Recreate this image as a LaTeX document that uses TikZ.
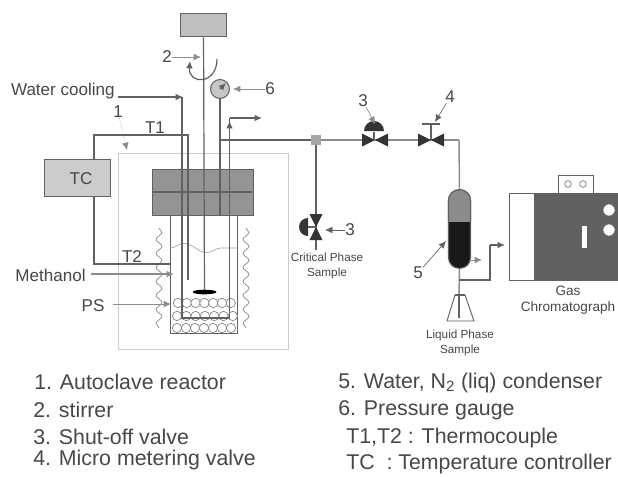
\documentclass[tikz,border=0pt]{standalone}
\usepackage{fontspec}
\setmainfont{Liberation Sans}
\usetikzlibrary{shapes.geometric, arrows.meta, decorations.pathmorphing}
\definecolor{inkgray}{gray}{0.28}
\definecolor{linegray}{gray}{0.38}
\definecolor{pipegray}{gray}{0.55}
\tikzstyle{whbox} = [rectangle, draw=linegray, line width=0.8pt, inner sep=0pt, anchor=north west]
\tikzstyle{wire} = [draw=linegray, line width=0.9pt]
\tikzstyle{pipe} = [draw=pipegray, line width=1.1pt]
\tikzstyle{lbl} = [text=inkgray, inner sep=0pt, font=\fontsize{12.8}{14}\selectfont]
\tikzstyle{tinylbl} = [text=inkgray, inner sep=0pt, align=center, font=\fontsize{8.8}{11.2}\selectfont]
\tikzstyle{legend} = [text=inkgray, inner sep=0pt, anchor=west, font=\fontsize{16}{17}\selectfont]
\tikzstyle{wavy} = [draw=linegray!70, line width=0.6pt, decorate, decoration={snake, amplitude=2.2pt, segment length=10.5pt}]
\tikzstyle{bead} = [draw=linegray!80, line width=0.5pt, circle, fill=white, minimum size=7pt, inner sep=0pt]
\tikzset{
  valvebody/.pic={\fill[black!80] (-13,-6.5) -- (13,6.5) -- (13,-6.5) -- (-13,6.5) -- cycle;},
  handwheel/.pic={\fill[black!80] (-10,0) arc (180:360:10) -- cycle;},
}
\begin{document}
\begin{tikzpicture}[x=0.75pt, y=-0.75pt, >={Latex[length=5.5pt,width=5pt]}]
	\useasboundingbox (0,0) rectangle (618,476);

	% enclosure and heater
	\node (encl) [whbox, draw=black!20, minimum width=127.5pt, minimum height=147pt] at (118,153) {};
	\draw [wavy] (159,228) -- (159,328);
	\draw [wavy] (246,228) -- (246,328);

	% reactor vessel
	\node (vessel) [whbox, fill=white, minimum width=50.5pt, minimum height=88.5pt] at (169.5,215) {};
	\foreach \i in {0,...,6} \node (low\i) [bead] at (177+\i*9,328) {};
	\foreach \i in {0,...,6} \node (mid\i) [bead] at (177+\i*9.3,316) {};
	\foreach \i in {0,...,6} \node (top\i) [bead] at (178+\i*8.8,303) {};
	\draw [wavy, draw=black!35, line width=0.5pt, decoration={snake, amplitude=3.5pt, segment length=34pt}] (170,248) -- (237,248);

	% head block
	\node (head) [whbox, fill=black!42, minimum width=76pt, minimum height=34.5pt] at (152,169) {};
	\node (midleft) [inner sep=0pt] at (152,192) {};
	\node (midright) [inner sep=0pt] at (253,192) {};
	\draw [wire, line width=1.2pt](midleft) -- (midright);

	% stirrer
	\node (motor) [whbox, fill=black!25, minimum width=34.5pt, minimum height=17.5pt] at (180,13) {};
	\node (paddle) [fill=black, ellipse, minimum width=18pt, minimum height=3.5pt, inner sep=0pt] at (204.5,292) {};
	\draw [wire](motor.south) -- (paddle);
	\coordinate (arcstart) at (217,59);
	\draw [wire, ->] (arcstart) .. controls (217,85) and (188,85) .. (190,61);

	% gauge
	\node (gauge) [circle, draw=linegray, fill=black!22, line width=0.8pt, minimum size=14.2pt, inner sep=0pt] at (220,89) {};
	\coordinate (gaugefoot) at (220,215);
	\coordinate (needle) at (226,83);
	\draw [wire](gauge) -- (gaugefoot);
	\draw [wire, ->](gauge.center) -- (needle);

	% cooling coil
	\coordinate (wcin) at (118,97);
	\coordinate (wcturn) at (183,97);
	\coordinate (coilL) at (182,318);
	\coordinate (coilR) at (229.5,318);
	\coordinate (wctop) at (229.5,118);
	\coordinate (wcout) at (262,118);
	\draw [wire, ->](wcin) -- (wcturn);
	\draw [wire](182,97) -- (coilL) -- (coilR) -- (wctop);
	\draw [wire, ->](229.5,130) -- (229.5,121);
	\draw [wire, ->](wctop) -- (wcout);

	% temperature controller
	\node (tc) [whbox, fill=black!20, minimum width=49.5pt, minimum height=27.5pt] at (44,159) {};
	\node (tclbl) [lbl] at (81,179) {TC};
	\coordinate (toptop) at (94,135);
	\coordinate (topend) at (188,135);
	\coordinate (t1tip) at (188,280);
	\coordinate (botbot) at (94,264);
	\coordinate (t2tip) at (170,264);
	\draw [wire](94,159) -- (toptop) -- (topend) -- (t1tip);
	\draw [wire](94,196) -- (botbot) -- (t2tip);

	% line to sampling
	\node (tee) [rectangle, fill=black!35, minimum size=7.5pt, inner sep=0pt] at (316,140) {};
	\coordinate (gaugetap) at (220,140);
	\coordinate (corner) at (459,140);
	\draw [wire](gaugetap) -- (tee);
	\draw [pipe](tee) -- (corner);

	% valves on the line
	\path (375,140) pic {valvebody};
	\path (374,131) pic {handwheel};
	\node (stemthree) [inner sep=0pt] at (374,131) {};
	\node (pipethree) [inner sep=0pt] at (374,140) {};
	\draw [wire](stemthree) -- (pipethree);
	\path (431,140) pic {valvebody};
	\coordinate (stemfour) at (431,124);
	\coordinate (pipefour) at (431,140);
	\coordinate (barL) at (422,124);
	\coordinate (barR) at (440,124);
	\draw [wire](stemfour) -- (pipefour);
	\draw [wire](barL) -- (barR);

	% critical phase sample valve
	\coordinate (samplefoot) at (316,250);
	\draw [wire](tee) -- (samplefoot);
	\path (316,227) pic [rotate=90] {valvebody};
	\path (308,227) pic [rotate=90, scale=0.9] {handwheel};
	\coordinate (linkL) at (308,227);
	\coordinate (linkR) at (316,227);
	\draw [wire](linkL) -- (linkR);

	% condenser
	\node (cond) [rectangle, rounded corners=8pt, fill=black!90, draw=linegray, line width=0.8pt, minimum width=16.5pt, minimum height=59pt, inner sep=0pt] at (459.5,229) {};
	\begin{scope}
		\clip (447,186) rectangle (472,221);
		\node (condtop) [rectangle, rounded corners=8pt, fill=black!45, draw=linegray, line width=0.8pt, minimum width=16.5pt, minimum height=59pt, inner sep=0pt] at (459.5,229) {};
	\end{scope}
	\coordinate (condfoot) at (459,296);
	\draw [pipe](corner) -- (cond.north);
	\draw [pipe](cond.south) -- (condfoot);
	\coordinate (ventstart) at (471,260);
	\coordinate (ventend) at (482,260);
	\draw [draw=pipegray, line width=0.5pt, ->](ventstart) -- (ventend);

	% flask
	\coordinate (flaskL) at (447,321);
	\coordinate (flaskR) at (474,321);
	\coordinate (neckL) at (455,295);
	\coordinate (neckR) at (465,295);
	\coordinate (flasktip) at (459,318);
	\draw [wire, line width=0.7pt](neckL) -- (flaskL) -- (flaskR) -- (neckR);
	\draw [wire](condfoot) -- (flasktip);
	\draw [wire, line width=1.4pt](neckL) -- (neckR);

	% gas chromatograph
	\node (gcwhite) [whbox, fill=white, minimum width=18.75pt, minimum height=65pt] at (509,193) {};
	\node (gcmain) [whbox, fill=black!62, minimum width=44.25pt, minimum height=65pt] at (534,193) {};
	\node (gcside) [whbox, fill=black!62, minimum width=19pt, minimum height=65pt] at (593,193) {};
	\node (gctop) [whbox, fill=white, minimum width=26pt, minimum height=13.5pt] at (558,175) {};
	\node (portA) [circle, draw=linegray, fill=white, minimum size=5pt, inner sep=0pt] at (568,184) {};
	\node (portB) [circle, draw=linegray, fill=white, minimum size=5pt, inner sep=0pt] at (583,184) {};
	\node (knobA) [circle, draw=linegray, fill=white, minimum size=9pt, inner sep=0pt] at (609,210) {};
	\node (knobB) [circle, draw=linegray, fill=white, minimum size=9pt, inner sep=0pt] at (609,230) {};
	\node (slot) [rectangle, draw=linegray, fill=white, minimum width=4.5pt, minimum height=17pt, inner sep=0pt] at (584,236.5) {};
	\coordinate (gcA) at (459,280);
	\coordinate (gcB) at (490,280);
	\coordinate (gcC) at (490,245);
	\coordinate (gcD) at (505,245);
	\draw [wire](gcA) -- (gcB) -- (gcC);
	\draw [wire, ->](gcC) -- (gcD);

	% callouts
	\node (wclbl) [lbl, anchor=east] at (115,91) {Water cooling};
	\node (onelbl) [lbl] at (118,112) {1};
	\coordinate (onetip) at (127,150);
	\draw [draw=black!45, line width=0.4pt, densely dotted, ->](onelbl) -- (onetip);
	\node (twolbl) [lbl] at (167,57) {2};
	\coordinate (twotip) at (201,57);
	\draw [draw=pipegray, line width=0.6pt, ->](twolbl) -- (twotip);
	\node (sixlbl) [lbl] at (270,89) {6};
	\coordinate (sixtip) at (233,89);
	\draw [draw=pipegray, line width=0.6pt, ->](sixlbl) -- (sixtip);
	\node (t1lbl) [lbl] at (155,128) {T1};
	\node (t2lbl) [lbl] at (132,257) {T2};
	\node (methlbl) [lbl] at (50.5,275) {Methanol};
	\coordinate (methfrom) at (91,274);
	\coordinate (methtip) at (174,274);
	\draw [draw=pipegray, line width=1.3pt, ->](methfrom) -- (methtip);
	\node (pslbl) [lbl] at (93,306) {PS};
	\coordinate (psfrom) at (113,304);
	\coordinate (pstip) at (171,304);
	\draw [draw=pipegray, line width=0.6pt, ->](psfrom) -- (pstip);
	\node (v3lbl) [lbl] at (363,101) {3};
	\coordinate (v3tip) at (375,124);
	\draw [draw=pipegray, line width=0.5pt, ->](v3lbl) -- (v3tip);
	\node (v4lbl) [lbl] at (450,97) {4};
	\coordinate (v4tip) at (435,122);
	\draw [draw=linegray, line width=0.5pt, ->](v4lbl) -- (v4tip);
	\node (s3lbl) [lbl] at (350,230) {3};
	\coordinate (s3tip) at (325,230);
	\draw [draw=linegray, line width=0.5pt, ->](s3lbl) -- (s3tip);
	\node (c5lbl) [lbl] at (418,273) {5};
	\coordinate (c5tip) at (446,241);
	\draw [draw=linegray, line width=0.5pt, ->](c5lbl) -- (c5tip);
	\node (critlbl) [tinylbl] at (327,265.5) {Critical Phase\\Sample};
	\node (liqlbl) [tinylbl] at (460,343) {Liquid Phase\\Sample};
	\node (gclbl) [tinylbl, font=\fontsize{10.2}{12}\selectfont] at (568,300) {Gas\\Chromatograph};

	% legend
	\node (itemone) [legend] at (34,382) {1. Autoclave reactor};
	\node (itemtwo) [legend] at (33,410) {2. stirrer};
	\node (itemthree) [legend] at (33,437) {3. Shut-off valve};
	\node (itemfour) [legend] at (33,460) {4. Micro metering valve};
	\node (itemfive) [legend] at (338,383) {5. Water, N\textsubscript{2} (liq) condenser};
	\node (itemsix) [legend] at (338,410) {6. Pressure gauge};
	\node (itemt) [legend] at (346,438) {T1,T2 : Thermocouple};
	\node (itemtc) [legend] at (346,464) {TC\ \ : Temperature controller};
\end{tikzpicture}
\end{document}
